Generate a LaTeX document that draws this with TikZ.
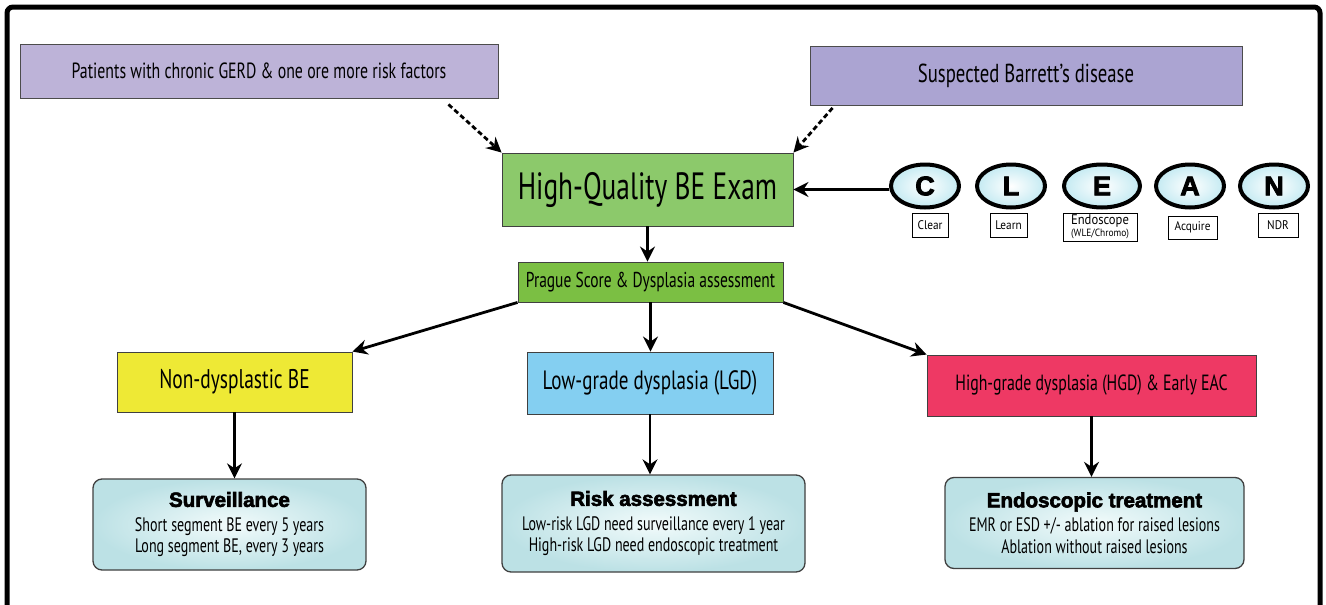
\documentclass[tikz,border=0pt]{standalone}
\usepackage{fontspec}
\setmainfont[FakeStretch=0.72]{PT Sans}
\newfontfamily\tagfont[FakeStretch=0.9]{PT Sans}
\newfontfamily\heavyfont[BoldFeatures={FakeBold=3}]{Liberation Sans}
\usepackage{xcolor}
\definecolor{gerdlilac}{HTML}{BDB3D8}
\definecolor{barrettlilac}{HTML}{ABA4D2}
\definecolor{examgreen}{HTML}{8CC96B}
\definecolor{praguegreen}{HTML}{7BBF43}
\definecolor{ndbeyellow}{HTML}{EEE935}
\definecolor{lgdblue}{HTML}{84CFF1}
\definecolor{hgdred}{HTML}{EE3964}
\definecolor{outedge}{HTML}{BCE1E5}
\definecolor{outcore}{HTML}{F2FBFB}
\definecolor{ringedge}{HTML}{C4EAF2}
\usetikzlibrary{shapes.geometric, arrows.meta, positioning, calc}
\tikzset{
  entrybox/.style={
    draw=black!70, line width=0.9pt,
    inner sep=0pt, align=center,
  },
  stagebox/.style={
    draw=black!75, line width=0.9pt,
    inner sep=0pt, align=center,
  },
  outcomebox/.style={
    draw=black!75, line width=1.3pt,
    rounded corners=9pt,
    inner color=outcore, outer color=outedge,
    inner sep=0pt, align=center,
    font=\fontsize{19.5}{21.5}\selectfont,
  },
  cleanring/.style={
    ellipse, draw=black, line width=4pt,
    inner color=white, outer color=ringedge,
    minimum width=68pt, minimum height=43pt, inner sep=0pt,
    font=\heavyfont\bfseries\fontsize{27}{27}\selectfont,
  },
  cleantag/.style={
    draw=black, line width=0.8pt, fill=white,
    inner sep=0pt, align=center,
    font=\tagfont\fontsize{12.5}{12}\selectfont,
  },
  flow/.style={-{Stealth[length=15pt, width=15pt, inset=5pt]}, line width=2.8pt},
  hint/.style={flow, dash pattern=on 5pt off 3pt},
}
\newcommand{\outhead}[1]{{\heavyfont\bfseries\fontsize{20.5}{23}\selectfont #1}}

\begin{document}
\begin{tikzpicture}[x=1pt, y=-1pt]
  \useasboundingbox (0,0) rectangle (1326,605);

  % Outer frame
  \draw[line width=5pt, rounded corners=6pt] (7,7) rectangle (1320,640);

  % Entry points
  \node[entrybox, fill=gerdlilac, minimum width=478pt, minimum height=54pt,
        font=\fontsize{22}{25}\selectfont] (gerd) at (259,71)
    {Patients with chronic GERD \& one ore more risk factors};
  \node[entrybox, fill=barrettlilac, minimum width=432pt, minimum height=59pt,
        font=\fontsize{26}{29}\selectfont] (barrett) at (1026,76)
    {Suspected Barrett's disease};

  % Exam and assessment
  \node[stagebox, fill=examgreen, minimum width=291pt, minimum height=73pt,
        font=\fontsize{38}{42}\selectfont] (exam) at (647.5,189.5)
    {High-Quality BE Exam};
  \node[stagebox, fill=praguegreen, minimum width=265pt, minimum height=40pt,
        font=\fontsize{21.5}{24}\selectfont] (prague) at (650.5,282)
    {Prague Score \& Dysplasia assessment};

  % Findings
  \node[stagebox, fill=ndbeyellow, minimum width=235pt, minimum height=60pt,
        font=\fontsize{27}{30}\selectfont] (ndbe) at (234.5,382)
    {Non-dysplastic BE};
  \node[stagebox, fill=lgdblue, minimum width=246pt, minimum height=62pt,
        font=\fontsize{26.5}{30}\selectfont] (lgd) at (650,383)
    {Low-grade dysplasia (LGD)};
  \node[stagebox, fill=hgdred, minimum width=329pt, minimum height=61pt,
        font=\fontsize{22}{25}\selectfont] (hgd) at (1091.5,385.5)
    {High-grade dysplasia (HGD) \& Early EAC};

  % Management
  \node[outcomebox, minimum width=273pt, minimum height=91pt] (surv) at (229.5,524.5)
    {\outhead{Surveillance}\\[3pt]
     Short segment BE every 5 years\\Long segment BE, every 3 years};
  \node[outcomebox, minimum width=303pt, minimum height=97pt] (risk) at (653.5,523.5)
    {\outhead{Risk assessment}\\[3pt]
     Low-risk LGD need surveillance every 1 year\\High-risk LGD need endoscopic treatment};
  \node[outcomebox, minimum width=299pt, minimum height=91pt] (endo) at (1094.5,523)
    {\outhead{Endoscopic treatment}\\[3pt]
     EMR or ESD +/- ablation for raised lesions\\Ablation without raised lesions};

  % CLEAN mnemonic
  \node[cleanring] (ringC) at (925,186) {C};
  \node[cleanring] (ringL) at (1011,186) {L};
  \node[cleanring, minimum width=76pt] (ringE) at (1102,186) {E};
  \node[cleanring] (ringA) at (1190,186) {A};
  \node[cleanring] (ringN) at (1274,186) {N};

  \node[cleantag, minimum width=36pt, minimum height=24pt] (tagC) at (930,225) {Clear};
  \node[cleantag, minimum width=37pt, minimum height=24pt] (tagL) at (1008.5,225) {Learn};
  \node[cleantag, minimum width=74pt, minimum height=28pt,
        font=\tagfont\fontsize{14}{12}\selectfont] (tagE) at (1100,227)
    {Endoscope\\{\fontsize{10.5}{11}\selectfont (WLE/Chromo)}};
  \node[cleantag, minimum width=49pt, minimum height=23pt] (tagA) at (1192.5,227.5) {Acquire};
  \node[cleantag, minimum width=40pt, minimum height=24pt] (tagN) at (1278,225) {NDR};

  % Connectors
  \draw[hint] ($(gerd.south east)+(-50,6)$) -- (exam.north west);
  \draw[hint] ($(barrett.south west)+(23,2)$) -- (exam.north east);
  \draw[flow] (ringC.west |- exam.east) -- (exam.east);
  \draw[flow] (exam.south) -- (exam.south |- prague.north);
  \draw[flow] (prague.south west) -- (ndbe.north east);
  \draw[flow] (prague.south) -- (prague.south |- lgd.north);
  \draw[flow] (prague.south east) -- (hgd.north west);
  \draw[flow] (ndbe.south) -- (ndbe.south |- surv.north);
  \draw[flow] (lgd.south) -- (lgd.south |- risk.north);
  \draw[flow] (hgd.south) -- (hgd.south |- endo.north);

\end{tikzpicture}
\end{document}
